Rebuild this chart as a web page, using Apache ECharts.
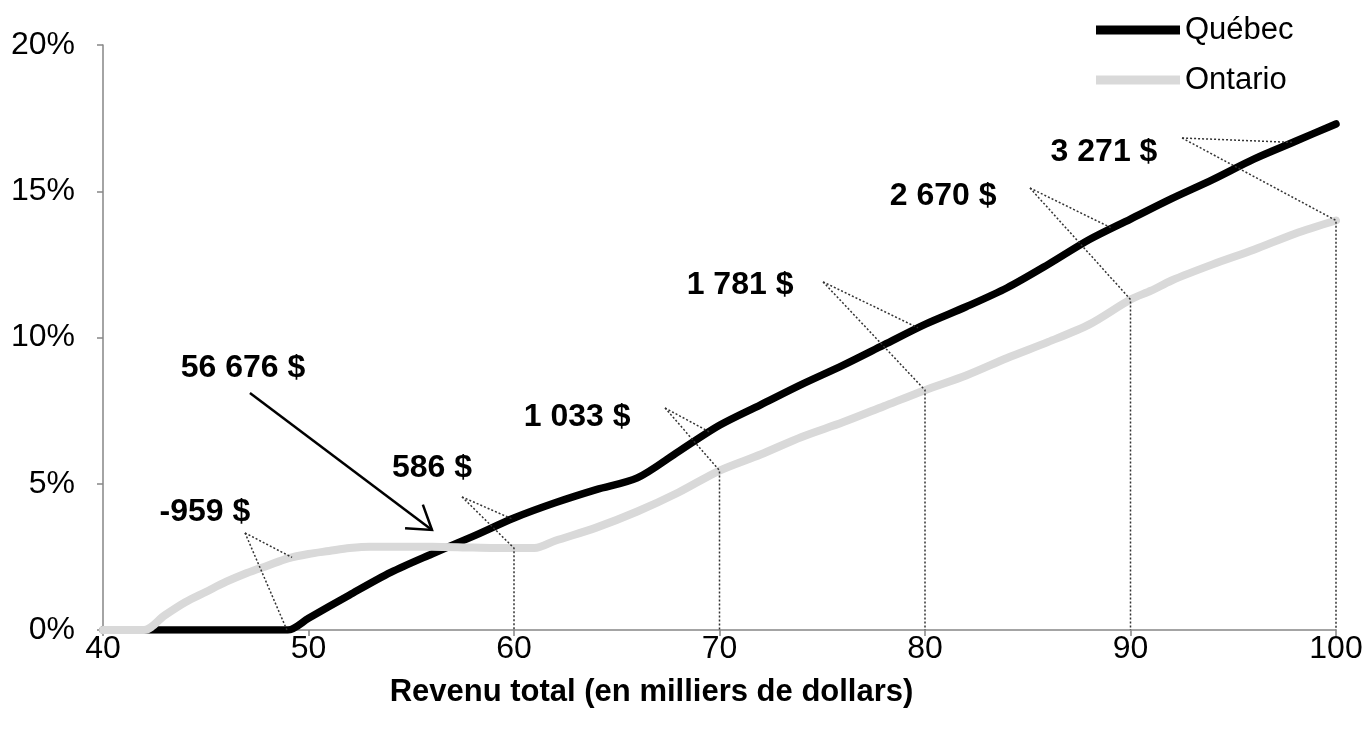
<!DOCTYPE html>
<html>
<head>
<meta charset="utf-8">
<script src="https://cdn.jsdelivr.net/npm/echarts@6/dist/echarts.min.js"></script>
<style>
html,body{margin:0;padding:0;background:#fff;}
#chart{width:1366px;height:747px;}
</style>
</head>
<body>
<div id="chart"></div>
<script>
// ---- Data ----
var quebecX = [40,42,44,46,48,49,50,52,54,56,58,60,62,64,66,68,70,72,74,76,78,80,82,84,86,88,90,92,94,96,98,100];
var quebecY = [0,0,0,0,0,0,0.4,1.2,1.97,2.6,3.2,3.83,4.35,4.8,5.2,6.1,7.0,7.7,8.4,9.05,9.75,10.45,11.05,11.7,12.5,13.35,14.05,14.75,15.4,16.1,16.7,17.3];
var ontarioX = [40,42,43,44,45,46,47,48,49,50,51,52,53,54,56,58,60,61,62,64,66,68,70,72,74,76,78,80,82,84,86,88,90,91,92,94,96,98,100];
var ontarioY = [0,0,0.5,0.95,1.3,1.65,1.95,2.2,2.45,2.6,2.7,2.8,2.85,2.85,2.85,2.82,2.8,2.8,3.05,3.5,4.05,4.7,5.45,6.0,6.6,7.1,7.65,8.2,8.7,9.3,9.85,10.45,11.3,11.6,11.95,12.5,13.0,13.55,14.0];
var xTicks = [40,50,60,70,80,90,100];
var yTicks = [0,5,10,15,20];

// annotations (differences in $ at given incomes)
var annText   = ['-959 $','586 $','1 033 $','1 781 $','2 670 $','3 271 $'];
var annIncome = [49.2,60,70,80,90,100];
// annotation layout (data coordinates)
var annTextX   = [44.96,56.01,63.07,71.0,80.88,88.71];
var annTextY   = [4.03,5.54,7.28,11.79,14.84,16.34];
var annAnchorX = [46.91,57.47,67.35,75.04,85.11,92.51];
var annAnchorY = [3.32,4.55,7.59,11.90,15.11,16.82];
var annBlackX  = [48.95,59.9,69.5,79.66,89.1,97.9];
var annDrop    = [false,true,true,true,true,true];

// crossing point callout
var crossText = '56 676 $';
var crossTextPos = [46.81,8.96];
var crossArrowFrom = [47.15,8.10];
var crossArrowTo = [56.01,3.42];

function interp(xs, ys, x){
  if (x <= xs[0]) return ys[0];
  for (var i=1;i<xs.length;i++){
    if (x <= xs[i]){
      var t = (x - xs[i-1])/(xs[i]-xs[i-1]);
      return ys[i-1] + t*(ys[i]-ys[i-1]);
    }
  }
  return ys[ys.length-1];
}
function pairs(xs, ys){ return xs.map(function(x,i){return [x, ys[i]];}); }

var FONT = '"Liberation Sans", Arial, sans-serif';
var axisColor = '#868686';

var chart = echarts.init(document.getElementById('chart'));

var annData = annText.map(function(t,i){ return [annTextX[i], annTextY[i], i]; });
annData.push([crossTextPos[0], crossTextPos[1], -1]);

var dotted = {stroke:'#333', lineWidth:1.5, lineDash:[2,2], fill:null};
var annFont = 'bold 32px ' + FONT;

function renderAnn(params, api){
  var i = api.value(2);
  var children = [];
  if (i >= 0) {
    var tp = api.coord([annTextX[i], annTextY[i]]);
    var a = api.coord([annAnchorX[i], annAnchorY[i]]);
    var b = api.coord([annBlackX[i], interp(quebecX, quebecY, annBlackX[i])]);
    var gx = annIncome[i];
    var g = api.coord([gx, interp(ontarioX, ontarioY, gx)]);
    children.push({type:'polyline', shape:{points:[a,b]}, style:dotted, silent:true});
    var pts = [a,g];
    if (annDrop[i]) pts.push(api.coord([gx, 0]));
    children.push({type:'polyline', shape:{points:pts}, style:dotted, silent:true});
    children.push({type:'text', x:tp[0], y:tp[1], style:{text:annText[i], font:annFont, fill:'#000', align:'center', verticalAlign:'middle'}, silent:true});
  } else {
    var tp2 = api.coord(crossTextPos);
    var s = api.coord(crossArrowFrom);
    var e = api.coord(crossArrowTo);
    var ang = Math.atan2(e[1]-s[1], e[0]-s[0]);
    var L = 27, w = 0.58;
    var p1 = [e[0]-L*Math.cos(ang-w), e[1]-L*Math.sin(ang-w)];
    var p2 = [e[0]-L*Math.cos(ang+w), e[1]-L*Math.sin(ang+w)];
    children.push({type:'polyline', shape:{points:[s,e]}, style:{stroke:'#000', lineWidth:2.5, fill:null}, silent:true});
    children.push({type:'polyline', shape:{points:[p1,e,p2]}, style:{stroke:'#000', lineWidth:2.5, fill:null, lineJoin:'miter'}, silent:true});
    children.push({type:'text', x:tp2[0], y:tp2[1], style:{text:crossText, font:annFont, fill:'#000', align:'center', verticalAlign:'middle'}, silent:true});
  }
  return {type:'group', children:children};
}

var option = {
  backgroundColor:'#fff',
  animation:false,
  grid:{left:103, right:30, top:45, bottom:117, containLabel:false},
  legend:{
    data:['Québec','Ontario'],
    orient:'vertical', left:1091, top:5,
    icon:'rect', itemWidth:84, itemHeight:9, itemGap:10,
    textStyle:{fontFamily:FONT, fontSize:31, color:'#000', lineHeight:40}
  },
  xAxis:{
    type:'value', min:40, max:100, interval:10,
    name:'Revenu total (en milliers de dollars)',
    nameLocation:'middle', nameGap:47,
    nameTextStyle:{fontFamily:FONT, fontSize:31, fontWeight:'bold', color:'#000', padding:[0,136,0,0]},
    axisLine:{show:true, lineStyle:{color:axisColor, width:1.5}},
    axisTick:{show:true, length:6, lineStyle:{color:axisColor, width:1.5}},
    axisLabel:{fontFamily:FONT, fontSize:32, color:'#000', margin:3,
      customValues: xTicks},
    splitLine:{show:false}
  },
  yAxis:{
    type:'value', min:0, max:20, interval:5,
    axisLine:{show:true, lineStyle:{color:axisColor, width:1.5}},
    axisTick:{show:true, length:6, lineStyle:{color:axisColor, width:1.5}},
    axisLabel:{fontFamily:FONT, fontSize:32, color:'#000', margin:28,
      formatter:function(v){return v+'%';}, customValues: yTicks},
    splitLine:{show:false}
  },
  series:[
    {name:'Québec', type:'line', data:pairs(quebecX, quebecY), showSymbol:false, smooth:0.3,
      lineStyle:{color:'#000', width:7.5, cap:'round', join:'round'}, itemStyle:{color:'#000'}, z:2},
    {name:'Ontario', type:'line', data:pairs(ontarioX, ontarioY), showSymbol:false, smooth:0.3,
      lineStyle:{color:'#d9d9d9', width:8, cap:'round', join:'round'}, itemStyle:{color:'#d9d9d9'}, z:3},
    {type:'custom', coordinateSystem:'cartesian2d', data:annData, renderItem:renderAnn, clip:false, z:4,
      encode:{x:0, y:1}, silent:true}
  ]
};
chart.setOption(option);
</script>
</body>
</html>
